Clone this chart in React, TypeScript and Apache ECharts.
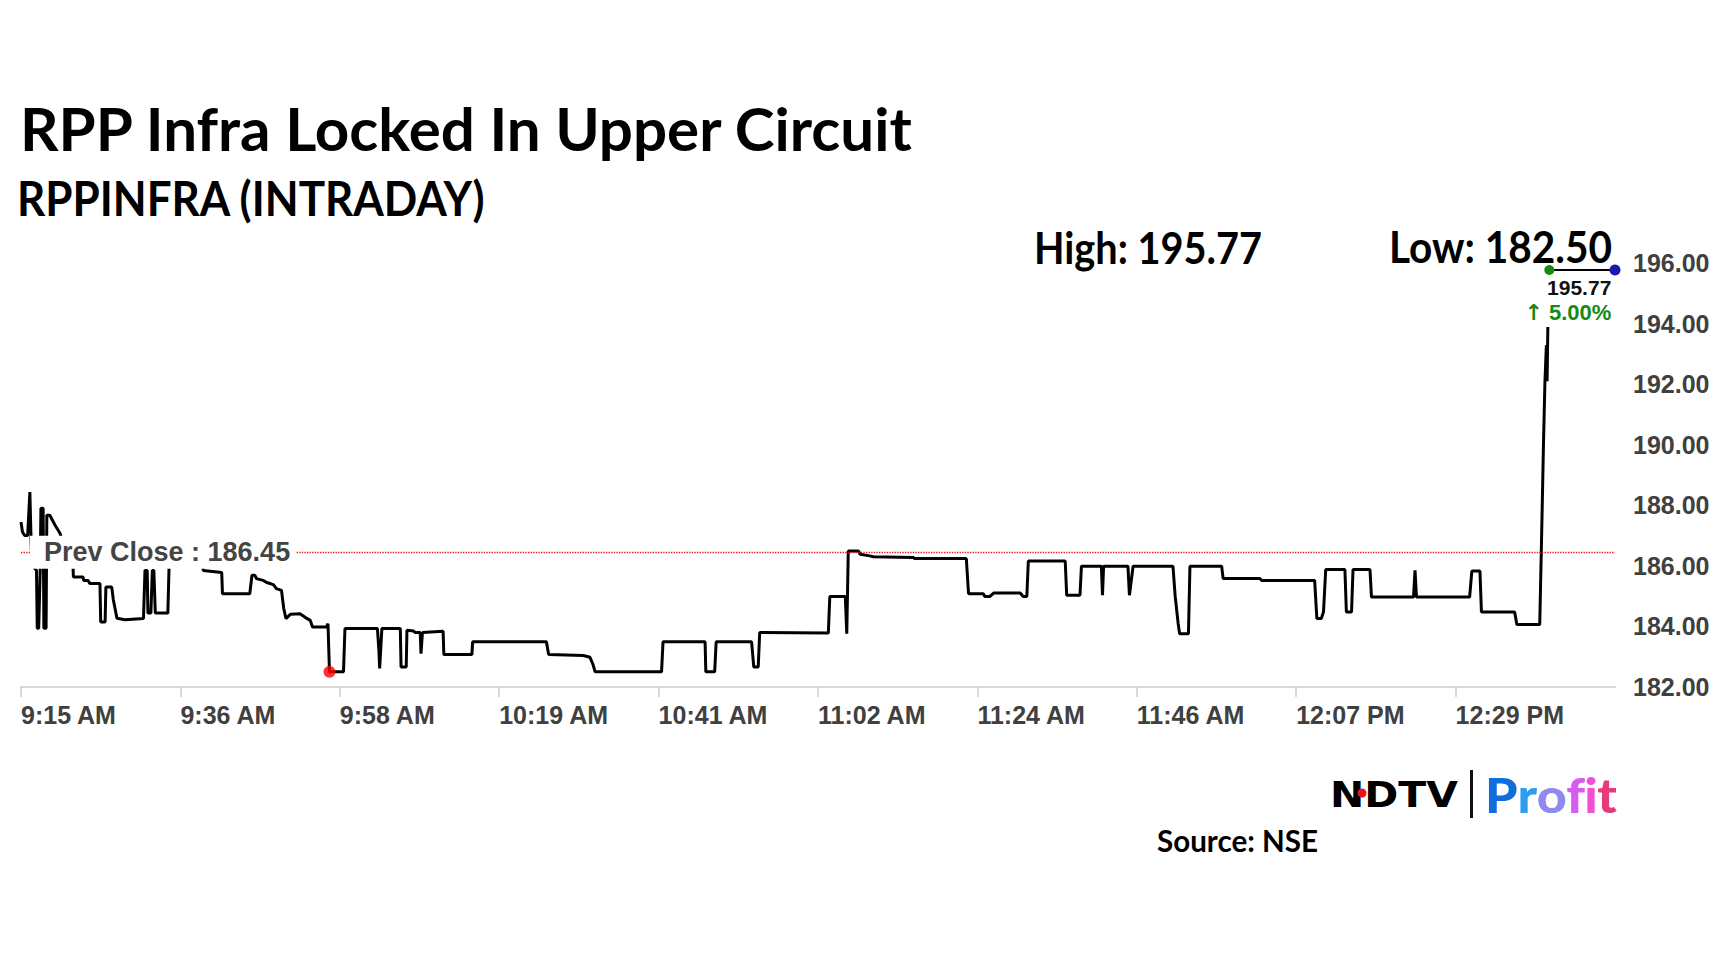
import React, { useEffect, useRef } from "react";
import * as echarts from "echarts";

const TICK_LABELS = ["9:15 AM", "9:36 AM", "9:58 AM", "10:19 AM", "10:41 AM", "11:02 AM", "11:24 AM", "11:46 AM", "12:07 PM", "12:29 PM"];
const TICK_STEP_MIN = 21.6;
const AXIS_END_MIN = 216;
const Y_MIN = 182;
const Y_MAX = 196;
const Y_STEP = 2;
const PREV_CLOSE = 186.45;
const LAST_TIME_MIN = 207.1;
const LAST_PRICE = 195.77;

// minutes after 9:15 AM
const TRADE_MINUTES = [
  0, 0.2, 0.5, 0.9, 1.2, 1.4, 1.7, 2.1, 2.2, 2.4, 2.6, 2.7, 3.0, 3.1, 3.4, 3.5, 3.9, 4.6, 5.3, 6.1,
  7.0, 7.1, 8.4, 8.5, 9.1, 9.3, 10.7, 10.8, 11.4, 11.5, 12.3, 12.5, 13.0, 14.1, 16.6, 16.8, 17.1, 17.2, 17.6, 17.8,
  18.0, 18.2, 19.9, 20.1, 24.5, 24.7, 27.2, 27.3, 31.0, 31.3, 31.7, 31.9, 32.8, 33.3, 34.2, 34.6, 35.3, 35.6, 35.9, 36.5,
  37.8, 38.5, 39.2, 39.5, 41.4, 41.6, 41.8, 43.7, 43.9, 48.3, 48.5, 48.6, 48.9, 51.4, 51.5, 52.2, 52.3, 53.2, 53.4, 54.1,
  54.2, 54.4, 57.2, 57.3, 61.1, 61.2, 71.2, 71.5, 76.2, 77.1, 77.5, 77.8, 86.8, 87.0, 92.7, 92.8, 94.0, 94.2, 99.0, 99.3,
  99.9, 100.1, 109.4, 109.6, 111.7, 111.9, 112.1, 113.5, 113.7, 115.0, 115.5, 120.9, 121.1, 128.1, 128.4, 130.4, 130.6, 131.3, 131.8, 135.4,
  135.8, 136.3, 136.5, 141.5, 141.7, 143.5, 143.7, 146.4, 146.55, 146.7, 150.0, 150.2, 150.7, 156.1, 156.4, 156.8, 157.0, 158.2, 158.4, 162.7,
  162.9, 167.9, 168.1, 175.3, 175.6, 176.2, 176.5, 176.8, 179.4, 179.6, 180.3, 180.5, 182.8, 183.0, 188.7, 188.9, 189.1, 196.3, 196.6, 197.7,
  197.9, 202.4, 202.7, 205.8, 206.1, 206.3, 206.5, 206.7, 206.8, 206.9,
];

const TRADE_PRICES = [
  187.45, 187.12, 187.0, 187.0, 188.44, 186.51, 185.96, 185.85, 183.94, 183.94, 185.85, 187.9, 187.9, 183.94, 183.94, 187.67, 187.67, 187.35, 187.07, 186.3,
  186.3, 185.63, 185.63, 185.52, 185.52, 185.42, 185.42, 184.15, 184.15, 185.3, 185.3, 184.9, 184.27, 184.22, 184.26, 185.85, 185.85, 184.44, 184.44, 185.85,
  185.85, 184.44, 184.44, 186.3, 186.3, 185.85, 185.78, 185.08, 185.08, 185.69, 185.69, 185.58, 185.52, 185.45, 185.38, 185.25, 185.19, 184.6, 184.26, 184.4,
  184.42, 184.3, 184.2, 183.98, 183.98, 184.09, 182.5, 182.5, 183.93, 183.93, 183.2, 182.61, 183.93, 183.93, 182.66, 182.66, 183.87, 183.85, 183.8, 183.8,
  183.1, 183.8, 183.84, 183.07, 183.07, 183.49, 183.49, 183.07, 183.04, 182.98, 182.75, 182.5, 182.5, 183.49, 183.49, 182.5, 182.5, 183.49, 183.49, 182.66,
  182.66, 183.8, 183.78, 184.99, 184.99, 183.76, 186.49, 186.49, 186.38, 186.33, 186.3, 186.28, 186.24, 186.24, 185.08, 185.08, 184.99, 184.99, 185.1, 185.1,
  184.99, 184.99, 186.16, 186.16, 185.03, 185.03, 185.99, 185.99, 185.03, 185.99, 185.99, 185.03, 185.99, 185.99, 185.0, 184.1, 183.76, 183.76, 185.99, 185.99,
  185.58, 185.58, 185.52, 185.52, 184.26, 184.26, 184.48, 185.88, 185.88, 184.48, 184.48, 185.88, 185.88, 184.97, 184.97, 185.85, 184.97, 184.97, 185.83, 185.83,
  184.48, 184.48, 184.06, 184.06, 187.5, 189.93, 192.02, 193.28, 192.1, 193.89,
];

const LABEL_GRAY = "#404040";
const AXIS_FONT = "'Liberation Sans', Arial, sans-serif";
const HEAD_FONT = "Lato, 'Open Sans', sans-serif";
const PROFIT_COLORS = ["#0f6ddc", "#2b9ef0", "#8d8af1", "#d55ef0", "#f24fd6", "#e8397c"];

let measureCtx: CanvasRenderingContext2D | null = null;
function measureWidth(text: string, font: string): number {
  if (!measureCtx) measureCtx = document.createElement("canvas").getContext("2d");
  if (!measureCtx) return 1;
  measureCtx.font = font;
  return measureCtx.measureText(text).width || 1;
}

function fittedText(
  text: string,
  x: number,
  y: number,
  targetWidth: number,
  size: number,
  family: string,
  weight: string | number,
  fill: any,
  align: "left" | "right" = "left"
) {
  const w = measureWidth(text, `${weight} ${size}px ${family}`);
  return {
    type: "text",
    x,
    y,
    scaleX: targetWidth / w,
    z: 20,
    silent: true,
    style: {
      text,
      x: 0,
      y: 0,
      fill,
      fontSize: size,
      fontFamily: family,
      fontWeight: weight,
      align,
      verticalAlign: "middle",
    },
  };
}

// one text element per letter so every letter carries its own gradient colour
function gradientWord(word: string, colors: string[], x: number, y: number, targetWidth: number, size: number, family: string, weight: string | number) {
  const font = `${weight} ${size}px ${family}`;
  const total = measureWidth(word, font);
  const scale = targetWidth / total;
  const items: any[] = [];
  for (let i = 0; i < word.length; i++) {
    const before = measureWidth(word.slice(0, i), font);
    items.push({
      type: "text",
      x: x + (i === 0 ? 0 : before * scale),
      y,
      scaleX: scale,
      z: 20,
      silent: true,
      style: {
        text: word[i],
        x: 0,
        y: 0,
        fill: colors[i % colors.length],
        fontSize: size,
        fontFamily: family,
        fontWeight: weight,
        align: "left",
        verticalAlign: "middle",
      },
    });
  }
  return items;
}

export default function App() {
  const ref = useRef<HTMLDivElement>(null);

  useEffect(() => {
    if (!ref.current) return;
    const chart = echarts.init(ref.current, null, { renderer: "svg" });

    const tradeData = TRADE_MINUTES.map((t, i) => [t, TRADE_PRICES[i]]);
    const allPrices = TRADE_PRICES.concat([LAST_PRICE]);
    const high = Math.max(...allPrices);
    const low = Math.min(...TRADE_PRICES);
    const lowIdx = TRADE_PRICES.indexOf(low);
    const changePct = ((LAST_PRICE - PREV_CLOSE) / PREV_CLOSE) * 100;

    const option: any = {
      animation: false,
      backgroundColor: "#ffffff",
      textStyle: { fontFamily: AXIS_FONT },
      grid: {
        left: 21,
        right: 113,
        top: 263,
        bottom: 285,
        containLabel: false,
        outerBoundsMode: "none",
      },
      xAxis: {
        type: "value",
        min: 0,
        max: AXIS_END_MIN,
        interval: TICK_STEP_MIN,
        axisLine: { show: true, lineStyle: { color: "#d9d9d9", width: 2 } },
        axisTick: { show: true, length: 10, lineStyle: { color: "#cccccc", width: 1.5 } },
        splitLine: { show: false },
        axisLabel: {
          showMaxLabel: false,
          align: "left",
          margin: 15,
          fontSize: 25,
          fontWeight: "bold",
          color: LABEL_GRAY,
          fontFamily: AXIS_FONT,
          formatter: (v: number) => TICK_LABELS[Math.round(v / TICK_STEP_MIN)] ?? "",
        },
      },
      yAxis: {
        type: "value",
        position: "right",
        min: Y_MIN,
        max: Y_MAX,
        interval: Y_STEP,
        axisLine: { show: false },
        axisTick: { show: false },
        splitLine: { show: false },
        axisLabel: {
          margin: 18,
          fontSize: 25,
          fontWeight: "bold",
          color: LABEL_GRAY,
          fontFamily: AXIS_FONT,
          formatter: (v: number) => v.toFixed(2),
        },
      },
      series: [
        {
          type: "line",
          name: "price",
          data: tradeData,
          showSymbol: false,
          z: 2,
          lineStyle: { color: "#000000", width: 3 },
          itemStyle: { color: "#000000" },
          markLine: {
            silent: true,
            symbol: ["none", "none"],
            z: 5,
            lineStyle: { color: "#e01010", type: "dotted", width: 1.3 },
            data: [{ yAxis: PREV_CLOSE }],
            label: {
              show: true,
              position: "insideStart",
              distance: [9, 0],
              formatter: `Prev Close : ${PREV_CLOSE.toFixed(2)}`,
              color: "#444444",
              fontSize: 27,
              fontWeight: "bold",
              fontFamily: AXIS_FONT,
              backgroundColor: "#ffffff",
              padding: [3, 6, 3, 14],
            },
          },
        },
        {
          type: "scatter",
          name: "low",
          data: [[TRADE_MINUTES[lowIdx], low]],
          symbolSize: 12,
          z: 6,
          itemStyle: { color: "#ff0000" },
        },
        {
          type: "line",
          name: "last",
          z: 6,
          showSymbol: true,
          lineStyle: { color: "#000000", width: 2 },
          data: [
            {
              value: [LAST_TIME_MIN, LAST_PRICE],
              symbol: "circle",
              symbolSize: 10,
              itemStyle: { color: "#158a15" },
              label: {
                show: true,
                position: "bottom",
                align: "right",
                offset: [62, 0],
                distance: 0,
                formatter: `{v|${LAST_PRICE.toFixed(2)}}\n{a|↑}{p| ${changePct.toFixed(2)}%}`,
                rich: {
                  v: { fontSize: 21, fontWeight: "bold", color: "#111111", fontFamily: AXIS_FONT, lineHeight: 25, align: "right" },
                  a: { fontSize: 22, fontWeight: "bold", color: "#158a15", fontFamily: "'DejaVu Sans', sans-serif", lineHeight: 25, align: "right" },
                  p: { fontSize: 22, fontWeight: "bold", color: "#158a15", fontFamily: AXIS_FONT, lineHeight: 25, align: "right" },
                },
              },
            },
            {
              value: [AXIS_END_MIN, LAST_PRICE],
              symbol: "circle",
              symbolSize: 11,
              itemStyle: { color: "#1a1ab0" },
            },
          ],
        },
      ],
      graphic: [
        fittedText("RPP Infra Locked In Upper Circuit", 20, 128, 895, 60, HEAD_FONT, "bold", "#000000"),
        fittedText("RPPINFRA (INTRADAY)", 17, 198, 469, 47, HEAD_FONT, "bold", "#000000"),
        fittedText(`High: ${high.toFixed(2)}`, 1034, 247, 228, 43, HEAD_FONT, "bold", "#000000"),
        fittedText(`Low: ${low.toFixed(2)}`, 1612, 247, 223, 43, HEAD_FONT, "bold", "#000000", "right"),
        fittedText("Source: NSE", 1157, 840, 161, 30, HEAD_FONT, "bold", "#000000"),
        fittedText("NDTV", 1330, 794, 128, 36, "'DejaVu Sans', sans-serif", "bold", "#000000"),
        {
          type: "circle",
          z: 21,
          silent: true,
          shape: { cx: 1362, cy: 793, r: 4.5 },
          style: { fill: "#e8141e" },
        },
        {
          type: "rect",
          z: 20,
          silent: true,
          shape: { x: 1470, y: 770, width: 3, height: 48 },
          style: { fill: "#111111" },
        },
        ...gradientWord("Profit", PROFIT_COLORS, 1485, 795, 132, 48, HEAD_FONT, 900),
      ],
    };

    chart.setOption(option);
    return () => chart.dispose();
  }, []);

  return (
    <div
      ref={ref}
      style={{ position: "fixed", left: 0, top: 0, width: 1728, height: 972, background: "#ffffff" }}
    />
  );
}
